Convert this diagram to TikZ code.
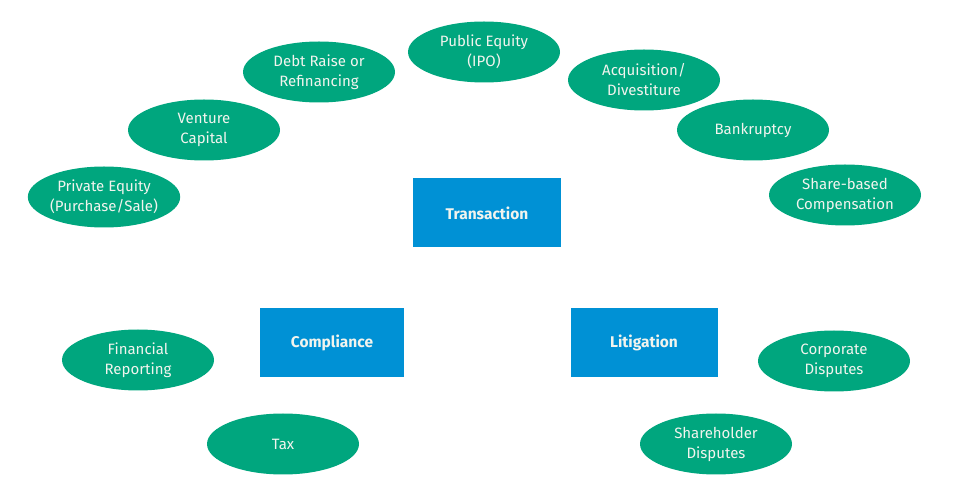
\documentclass[tikz,border=0pt]{standalone}
\usepackage{fontspec}
\setmainfont{Fira Sans}
\usetikzlibrary{shapes.geometric}
\definecolor{ovalgreen}{RGB}{0,166,126}
\definecolor{boxblue}{RGB}{0,145,213}
\definecolor{txtlight}{RGB}{242,244,238}
\tikzset{
  oval/.style={ellipse, fill=ovalgreen, draw=none, minimum width=152pt, minimum height=61pt, inner sep=0pt,
    text=txtlight, align=center, font=\fontsize{15}{20}\selectfont},
  cat/.style={rectangle, fill=boxblue, draw=none, minimum height=69pt, inner sep=0pt,
    text=txtlight, align=center, font=\fontsize{15.5}{20}\selectfont\bfseries}
}
\begin{document}
\begin{tikzpicture}[x=1pt,y=-1pt]
\useasboundingbox (0,0) rectangle (959,502);
\node[cat, minimum width=148pt] (trans) at (487,213) {Transaction};
\node[cat, minimum width=144pt] (comp) at (332,343) {Compliance};
\node[cat, minimum width=147pt] (lit) at (644,343) {Litigation};
\node[oval] (pe) at (104,197) {Private Equity\\(Purchase/Sale)};
\node[oval] (vc) at (204,130) {Venture\\Capital};
\node[oval] (debt) at (319,72) {Debt Raise or\\Refinancing};
\node[oval] (ipo) at (484,52) {Public Equity\\(IPO)};
\node[oval] (acq) at (644,80) {Acquisition/\\Divestiture};
\node[oval] (bank) at (753,130) {Bankruptcy};
\node[oval] (share) at (845,195) {Share-based\\Compensation};
\node[oval] (fin) at (138,360) {Financial\\Reporting};
\node[oval] (tax) at (283,444) {Tax};
\node[oval] (corp) at (834,361) {Corporate\\Disputes};
\node[oval] (shd) at (716,444) {Shareholder\\Disputes};
\end{tikzpicture}
\end{document}
